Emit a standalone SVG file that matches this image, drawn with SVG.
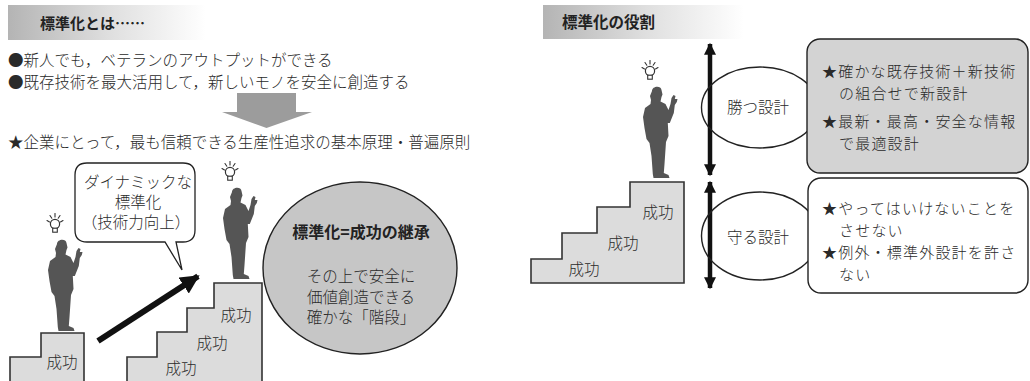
<svg xmlns="http://www.w3.org/2000/svg" xmlns:xlink="http://www.w3.org/1999/xlink" width="1030" height="381" viewBox="0 0 1030 381">
  <style>
    .t { font-family: "Noto Sans CJK JP", "Noto Sans", sans-serif; fill: #2a2a2a; font-size: 15.5px; font-weight: 300; }
    .c { text-anchor: middle; }
    .bx { font-size: 15px; letter-spacing: 1.2px; }
    .hd { font-family: "Noto Sans CJK JP", "Noto Sans", sans-serif; font-weight: bold; font-size: 15px; fill: #222; }
    .stair { fill: #dcdcdc; stroke: #333; stroke-width: 1.6; stroke-linejoin: miter; }
    .outline { stroke: #222; stroke-width: 1.4; }
    .person { fill: #555; }
  </style>
  <defs>
    <linearGradient id="hdrGrad" x1="0" y1="0" x2="1" y2="0">
      <stop offset="0" stop-color="#b4b4b4"/>
      <stop offset="0.5" stop-color="#dedede"/>
      <stop offset="1" stop-color="#ffffff"/>
    </linearGradient>
    <marker id="headBig" viewBox="0 0 10 10" refX="9" refY="5" markerUnits="userSpaceOnUse" markerWidth="19" markerHeight="19" orient="auto">
      <path d="M0,0 L10,5 L0,10 Z" fill="#111"/>
    </marker>
    <marker id="headV" viewBox="0 0 10 10" refX="9" refY="5" markerUnits="userSpaceOnUse" markerWidth="13" markerHeight="12" orient="auto-start-reverse">
      <path d="M0,0 L10,5 L0,10 Z" fill="#111"/>
    </marker>
    <!-- standing figure with a light bulb above the head -->
    <g id="person">
      <g transform="translate(11,-15)">
        <g stroke="#333" stroke-width="1.1" stroke-linecap="round">
          <line x1="-8" y1="-3.5" x2="-5.5" y2="-2"/>
          <line x1="-5" y1="-8.5" x2="-3.2" y2="-5.8"/>
          <line x1="0" y1="-10.5" x2="0" y2="-7"/>
          <line x1="5" y1="-8.5" x2="3.2" y2="-5.8"/>
          <line x1="8" y1="-3.5" x2="5.5" y2="-2"/>
        </g>
        <circle cx="0" cy="0" r="4.6" fill="#fff" stroke="#333" stroke-width="1.2"/>
        <rect x="-2.3" y="4.2" width="4.6" height="4" fill="#fff" stroke="#333" stroke-width="1.1"/>
      </g>
      <path class="person" d="M13,5 C13,0 22,-1 22.5,4 L23.5,8.5 L22.5,11 L21.5,15.5 L26.5,18 L29.5,24 L31.5,18 L32.5,12 L34.5,9 L36.5,10 L35.8,13 L38.5,13 L37.8,16 L35.8,19 L34.8,27 L30.8,37 L28.8,37 L29.5,50 L27,56 L25.5,78 L24.8,87 L29.5,89 L30.5,92 L14.5,92 L13.8,88 L12.5,70 L10.5,57 L7.5,53 L5.5,42 L4,31 L6,22 L11.5,18 L12,14 L11,10 Z"/>
    </g>
  </defs>

  <!-- left panel: heading and bullet text -->
  <g id="header-left">
    <rect x="8" y="5" width="198" height="35" fill="url(#hdrGrad)"/>
    <text class="hd" x="40" y="29">標準化とは……</text>
  </g>
  <g id="bullets">
    <text class="t" x="8" y="66">●新人でも，ベテランのアウトプットができる</text>
    <text class="t" x="8" y="88">●既存技術を最大活用して，新しいモノを安全に創造する</text>
    <polygon points="237,93 296,93 296,112 312,112 266.5,128 222,112 237,112" fill="#9c9c9c"/>
    <text class="t" x="8" y="148">★企業にとって，最も信頼できる生産性追求の基本原理・普遍原則</text>
  </g>

  <!-- single step -->
  <g id="stair-small">
    <polygon class="stair" points="10,383 10,357 41,357 41,333 84,333 84,383"/>
    <text class="t c" x="62" y="368">成功</text>
  </g>
  <g id="person-small">
    <use xlink:href="#person" href="#person" transform="translate(44,239)"/>
  </g>

  <!-- speech bubble -->
  <g id="bubble">
    <path d="M87,163 L183,163 Q195,163 195,175 L195,230 Q195,242 183,242 L176,242 L182,270 L165,242 L87,242 Q75,242 75,230 L75,175 Q75,163 87,163 Z" fill="#fff" stroke="#222" stroke-width="1.3"/>
    <text class="t c" x="138" y="188">ダイナミックな</text>
    <text class="t c" x="138" y="208">標準化</text>
    <text class="t c" x="136" y="228">（技術力向上）</text>
  </g>

  <!-- connectors -->
  <g id="connectors">
    <line x1="98" y1="341" x2="198" y2="276.3" stroke="#111" stroke-width="6" marker-end="url(#headBig)"/>
    <line x1="710" y1="44" x2="710" y2="175" stroke="#111" stroke-width="4.5" marker-start="url(#headV)" marker-end="url(#headV)"/>
    <line x1="710" y1="182" x2="710" y2="288" stroke="#111" stroke-width="4.5" marker-start="url(#headV)" marker-end="url(#headV)"/>
  </g>

  <!-- three steps -->
  <g id="stair-large">
    <polygon class="stair" points="127,383 127,357 157,357 157,332 187,332 187,308 214,308 214,283 262,283 262,383"/>
    <text class="t c" x="236" y="321">成功</text>
    <text class="t c" x="212" y="349">成功</text>
    <text class="t c" x="181" y="374">成功</text>
  </g>
  <g id="person-top">
    <use xlink:href="#person" href="#person" transform="translate(219,187)"/>
  </g>

  <!-- circle: succession of success -->
  <g id="circle">
    <ellipse cx="360" cy="268" rx="97" ry="86" fill="#c6c6c6" class="outline"/>
    <text class="hd c" x="361" y="238" style="font-size:16px">標準化=成功の継承</text>
    <text class="t c" x="361" y="282">その上で安全に</text>
    <text class="t c" x="361" y="303">価値創造できる</text>
    <text class="t c" x="361" y="323">確かな「階段」</text>
  </g>

  <!-- right panel -->
  <g id="header-right">
    <rect x="543" y="5" width="201" height="34" fill="url(#hdrGrad)"/>
    <text class="hd" x="562" y="28" style="font-size:15.5px">標準化の役割</text>
  </g>
  <g id="stair-right">
    <polygon class="stair" points="531,283 531,259 562,259 562,233 597,233 597,207 630,207 630,182 684,182 684,283"/>
    <text class="t c" x="658" y="218">成功</text>
    <text class="t c" x="623" y="249">成功</text>
    <text class="t c" x="584" y="275">成功</text>
  </g>
  <g id="person-right">
    <use xlink:href="#person" href="#person" transform="translate(639,86)"/>
  </g>

  <g id="win-design">
    <ellipse cx="760" cy="107.5" rx="58.5" ry="40.5" fill="none" class="outline"/>
    <text class="t c" x="758" y="113">勝つ設計</text>
  </g>
  <g id="protect-design">
    <ellipse cx="760" cy="236" rx="58.5" ry="44" fill="none" class="outline"/>
    <text class="t c" x="758" y="243">守る設計</text>
  </g>

  <g id="win-box">
    <rect x="807" y="39" width="221" height="134" rx="13" fill="#d3d3d3" class="outline"/>
    <text class="t bx" x="822" y="77">★確かな既存技術＋新技術</text>
    <text class="t bx" x="839" y="99">の組合せで新設計</text>
    <text class="t bx" x="822" y="127">★最新・最高・安全な情報</text>
    <text class="t bx" x="839" y="149">で最適設計</text>
  </g>
  <g id="protect-box">
    <rect x="808" y="178" width="220" height="115" rx="13" fill="#fff" class="outline"/>
    <text class="t bx" x="822" y="214">★やってはいけないことを</text>
    <text class="t bx" x="839" y="236">させない</text>
    <text class="t bx" x="822" y="258">★例外・標準外設計を許さ</text>
    <text class="t bx" x="839" y="280">ない</text>
  </g>
</svg>
